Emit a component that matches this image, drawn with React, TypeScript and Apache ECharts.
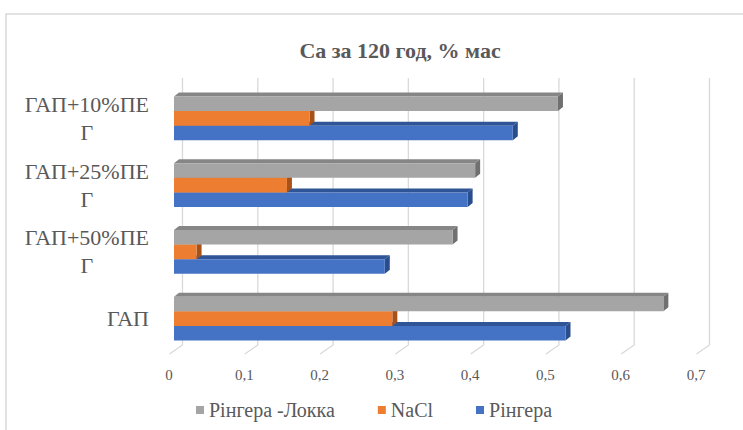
import React, { useEffect, useRef } from "react";
import * as echarts from "echarts";

const categories = ["ГАП", "ГАП+50%ПЕГ", "ГАП+25%ПЕГ", "ГАП+10%ПЕГ"];
const seriesNames = ["Рінгера", "NaCl", "Рінгера -Локка"];
const ringer = [0.52, 0.28, 0.39, 0.45];
const nacl = [0.29, 0.03, 0.15, 0.18];
const ringerLocke = [0.65, 0.37, 0.4, 0.51];
const xTicks = [0, 0.1, 0.2, 0.3, 0.4, 0.5, 0.6, 0.7];
const legendOrder = ["Рінгера -Локка", "NaCl", "Рінгера"];

const faceColors = [
  { front: "#4472C4", top: "#2F5597", side: "#2A4E8D" },
  { front: "#ED7D31", top: "#BF5F1E", side: "#A8521A" },
  { front: "#A5A5A5", top: "#868686", side: "#707070" },
];

const TEXT = "#595959";
const FONT = "Liberation Serif, DejaVu Serif, serif";

export default function App() {
  const ref = useRef<HTMLDivElement>(null);
  useEffect(() => {
    if (!ref.current) return;
    const chart = echarts.init(ref.current, null, { renderer: "svg" });
    const dx = 5;
    const dy = -4;

    const barSeries = [ringer, nacl, ringerLocke].map((vals, k) => ({
      type: "custom",
      name: seriesNames[k],
      z: 3,
      clip: false,
      itemStyle: { color: faceColors[k].front },
      encode: { x: 0, y: 1 },
      data: vals.map((v, i) => [v, i]),
      renderItem: (params: any, api: any) => {
        const val = api.value(0);
        const cat = api.value(1);
        const p0 = api.coord([0, cat]);
        const p1 = api.coord([val, cat]);
        const bandH = api.size([0, 1])[1];
        const bh = bandH * 0.2175;
        const yTop = p0[1] + 1.5 * bh - (k + 1) * bh;
        const x0 = p0[0];
        const x1 = p1[0];
        const c = faceColors[k];
        return {
          type: "group",
          children: [
            {
              type: "polygon",
              shape: {
                points: [
                  [x0, yTop],
                  [x0 + dx, yTop + dy],
                  [x1 + dx, yTop + dy],
                  [x1, yTop],
                ],
              },
              style: { fill: c.top },
            },
            {
              type: "polygon",
              shape: {
                points: [
                  [x1, yTop],
                  [x1 + dx, yTop + dy],
                  [x1 + dx, yTop + dy + bh],
                  [x1, yTop + bh],
                ],
              },
              style: { fill: c.side },
            },
            {
              type: "rect",
              shape: { x: x0, y: yTop, width: x1 - x0, height: bh },
              style: { fill: c.front },
            },
          ],
        };
      },
    }));

    const gridSeries = {
      type: "custom",
      name: "grid-lines",
      z: 1,
      clip: false,
      silent: true,
      encode: { x: 0, y: 1 },
      data: xTicks.map((t) => [t, 0]),
      renderItem: (params: any, api: any) => {
        const cs = params.coordSys;
        const p = api.coord([api.value(0), 0]);
        const xb = p[0] + 8.5;
        const yT = cs.y - 7;
        const yB = cs.y + cs.height - 7;
        return {
          type: "polyline",
          shape: {
            points: [
              [xb, yT],
              [xb, yB],
              [p[0] - 4.5, cs.y + cs.height + 2],
            ],
          },
          style: { stroke: "#D9D9D9", lineWidth: 1.3, fill: "none" },
        };
      },
    };

    chart.setOption({
      animation: false,
      backgroundColor: "#ffffff",
      textStyle: { fontFamily: FONT },
      graphic: [
        {
          type: "rect",
          shape: { x: 6, y: 14, width: 900, height: 600 },
          style: { fill: "none", stroke: "#D9D9D9", lineWidth: 1.5 },
          silent: true,
        },
      ],
      title: {
        text: "Са за 120 год, % мас",
        left: 395,
        textAlign: "center",
        top: 33,
        textStyle: {
          fontFamily: FONT,
          fontSize: 22,
          fontWeight: "bold",
          color: TEXT,
          lineHeight: 24,
        },
      },
      legend: {
        data: legendOrder,
        left: 191,
        top: 395,
        icon: "rect",
        itemWidth: 8,
        itemHeight: 8,
        itemGap: 43,
        textStyle: { fontFamily: FONT, fontSize: 20, color: TEXT, lineHeight: 20 },
      },
      grid: { left: 174, right: 42, top: 85, bottom: 78, containLabel: false },
      xAxis: {
        type: "value",
        min: 0,
        max: 0.7,
        interval: 0.1,
        axisLine: { show: false },
        axisTick: { show: false },
        splitLine: { show: false },
        axisLabel: {
          fontFamily: FONT,
          fontSize: 15,
          color: TEXT,
          margin: 15,
          padding: [0, 10, 0, 0],
          formatter: (v: number) => (v === 0 ? "0" : String(Math.round(v * 10) / 10).replace(".", ",")),
        },
      },
      yAxis: {
        type: "category",
        data: categories,
        axisLine: { show: false },
        axisTick: { show: false },
        splitLine: { show: false },
        axisLabel: {
          fontFamily: FONT,
          fontSize: 22,
          color: TEXT,
          lineHeight: 28,
          margin: 25,
          formatter: (v: string) =>
            v.length > 4 ? v.slice(0, -1) + "\n{c|" + v.slice(-1) + "}" : v,
          rich: {
            c: { align: "center", fontFamily: FONT, fontSize: 22, color: TEXT, lineHeight: 28 },
          },
        },
      },
      series: [gridSeries, ...barSeries],
    });
    return () => chart.dispose();
  }, []);
  return (
    <div
      ref={ref}
      style={{ position: "fixed", left: 0, top: 0, width: 743, height: 430, background: "#fff" }}
    />
  );
}
